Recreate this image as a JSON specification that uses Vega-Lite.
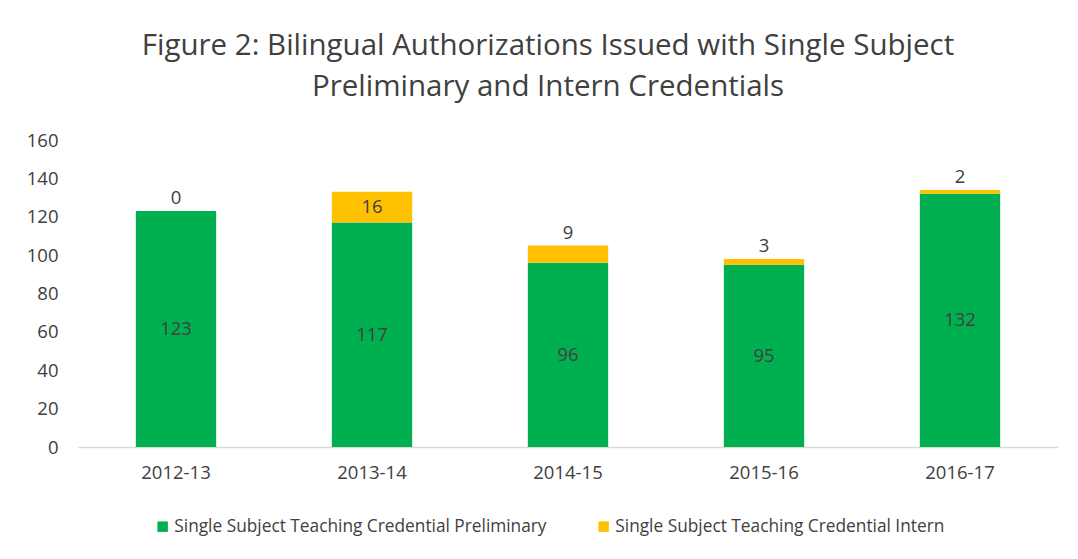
{
  "$schema": "https://vega.github.io/schema/vega-lite/v6.json",
  "width": 980,
  "height": 307,
  "autosize": {"type": "none"},
  "padding": {"left": 78, "top": 140, "right": 20, "bottom": 112},
  "background": "white",
  "title": {
    "text": ["Figure 2: Bilingual Authorizations Issued with Single Subject", "Preliminary and Intern Credentials"],
    "anchor": "middle",
    "frame": "group",
    "dx": -20,
    "offset": 29,
    "fontSize": 29.5,
    "font": "Open Sans",
    "fontWeight": "normal",
    "color": "#404040",
    "lineHeight": 41
  },
  "data": {
    "values": [
      {"year": "2012-13", "series": "Single Subject Teaching Credential Preliminary", "value": 123},
      {"year": "2013-14", "series": "Single Subject Teaching Credential Preliminary", "value": 117},
      {"year": "2014-15", "series": "Single Subject Teaching Credential Preliminary", "value": 96},
      {"year": "2015-16", "series": "Single Subject Teaching Credential Preliminary", "value": 95},
      {"year": "2016-17", "series": "Single Subject Teaching Credential Preliminary", "value": 132},
      {"year": "2012-13", "series": "Single Subject Teaching Credential Intern", "value": 0},
      {"year": "2013-14", "series": "Single Subject Teaching Credential Intern", "value": 16},
      {"year": "2014-15", "series": "Single Subject Teaching Credential Intern", "value": 9},
      {"year": "2015-16", "series": "Single Subject Teaching Credential Intern", "value": 3},
      {"year": "2016-17", "series": "Single Subject Teaching Credential Intern", "value": 2}
    ]
  },
  "transform": [
    {"stack": "value", "groupby": ["year"], "sort": [{"field": "series", "order": "descending"}], "as": ["v0", "v1"]},
    {"calculate": "(datum.v0 + datum.v1) / 2", "as": "mid"}
  ],
  "encoding": {
    "x": {
      "field": "year", "type": "nominal", "title": null,
      "scale": {"paddingInner": 0.59, "paddingOuter": 0.295},
      "axis": {"labelAngle": 0, "ticks": false, "domainColor": "#D9D9D9", "domainWidth": 1.5, "labelPadding": 16, "labelFontSize": 18.5, "labelColor": "#404040", "labelFont": "Open Sans"}
    }
  },
  "layer": [
    {
      "mark": {"type": "bar"},
      "encoding": {
        "y": {
          "field": "v0", "type": "quantitative", "title": null,
          "scale": {"domain": [0, 160]},
          "axis": {"values": [0, 20, 40, 60, 80, 100, 120, 140, 160], "labelOverlap": false, "grid": false, "domain": false, "ticks": false, "labelPadding": 20, "labelFontSize": 18.5, "labelColor": "#404040", "labelFont": "Open Sans"}
        },
        "y2": {"field": "v1"},
        "color": {
          "field": "series", "type": "nominal",
          "scale": {"domain": ["Single Subject Teaching Credential Preliminary", "Single Subject Teaching Credential Intern"], "range": ["#00B050", "#FFC000"]},
          "legend": {"orient": "none", "legendX": 76, "legendY": 378, "direction": "horizontal", "title": null, "symbolType": "square", "symbolSize": 110, "symbolStrokeWidth": 0, "labelFontSize": 17.3, "labelFont": "Open Sans", "labelColor": "#404040", "labelLimit": 500, "columnPadding": 48, "labelOffset": 3}
        }
      }
    },
    {
      "transform": [{"filter": "datum.series == 'Single Subject Teaching Credential Preliminary' || datum.value >= 10"}],
      "mark": {"type": "text", "fontSize": 18.5, "font": "Open Sans", "color": "#404040", "baseline": "middle"},
      "encoding": {
        "y": {"field": "mid", "type": "quantitative", "title": null,
          "axis": {"values": [0, 20, 40, 60, 80, 100, 120, 140, 160], "labelOverlap": false, "grid": false, "domain": false, "ticks": false, "labelPadding": 20, "labelFontSize": 18.5, "labelColor": "#404040", "labelFont": "Open Sans"}},
        "text": {"field": "value", "type": "quantitative"}
      }
    },
    {
      "transform": [{"filter": "datum.series == 'Single Subject Teaching Credential Intern' && datum.value < 10"}],
      "mark": {"type": "text", "fontSize": 18.5, "font": "Open Sans", "color": "#404040", "baseline": "bottom", "dy": -3},
      "encoding": {
        "y": {"field": "v1", "type": "quantitative", "title": null,
          "axis": {"values": [0, 20, 40, 60, 80, 100, 120, 140, 160], "labelOverlap": false, "grid": false, "domain": false, "ticks": false, "labelPadding": 20, "labelFontSize": 18.5, "labelColor": "#404040", "labelFont": "Open Sans"}},
        "text": {"field": "value", "type": "quantitative"}
      }
    }
  ],
  "config": {"view": {"stroke": null}, "axisY": {"labelOverlap": false}}
}
